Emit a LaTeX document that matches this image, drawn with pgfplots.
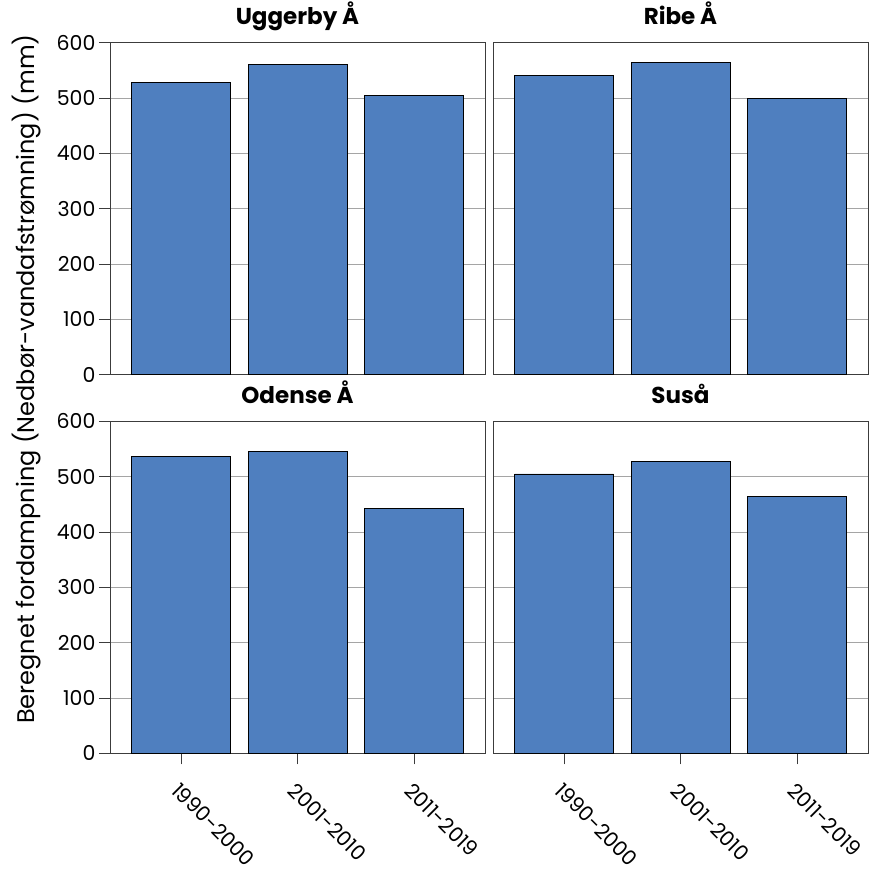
\documentclass[border=0pt]{standalone}
\usepackage{fontspec}
\setmainfont{Poppins}
\usepackage{pgfplots}
\pgfplotsset{compat=1.18}
\usepgfplotslibrary{groupplots}
\usetikzlibrary{calc}
\definecolor{barblue}{RGB}{79,127,191}
\definecolor{gridgray}{RGB}{165,165,165}
\definecolor{framegray}{RGB}{60,60,60}
\begin{document}
\begin{tikzpicture}
\begin{groupplot}[
  group style={group size=2 by 2, horizontal sep=8pt, vertical sep=46.7pt},
  width=375pt, height=332pt, scale only axis,
  ymin=0, ymax=600, ytick={0,100,...,600},
  xmin=-0.61, xmax=2.61, xtick={0,1,2},
  ymajorgrids, grid style={gridgray, line width=0.8pt},
  axis line style={framegray, line width=0.9pt},
  tick align=outside, major tick length=11pt,
  tick style={framegray, line width=0.8pt},
  ytick pos=left, xtick pos=bottom,
  ybar, /pgf/bar width=0.85,
  ticklabel style={font=\fontsize{20.5}{24}\selectfont},
  /pgf/number format/assume math mode=true,
  title style={font=\bfseries\fontsize{23}{26}\selectfont, at={(0.5,1)}, anchor=base, yshift=12pt},
]
\nextgroupplot[title={Uggerby Å}, xtick=\empty]
\addplot[fill=barblue, draw=black, line width=0.8pt] coordinates {(0,528) (1,561) (2,504)};
\nextgroupplot[title={Ribe Å}, xtick=\empty, yticklabels={}, ytick style={draw=none}]
\addplot[fill=barblue, draw=black, line width=0.8pt] coordinates {(0,540) (1,565) (2,499)};
\nextgroupplot[title={Odense Å}, xticklabels={1990-2000,2001-2010,2011-2019},
  xticklabel style={yshift=-12pt, rotate=-45, anchor=north west}]
\addplot[fill=barblue, draw=black, line width=0.8pt] coordinates {(0,537) (1,546) (2,443)};
\nextgroupplot[title={Suså}, yticklabels={}, ytick style={draw=none},
  xticklabels={1990-2000,2001-2010,2011-2019},
  xticklabel style={yshift=-12pt, rotate=-45, anchor=north west}]
\addplot[fill=barblue, draw=black, line width=0.8pt] coordinates {(0,505) (1,527) (2,464)};
\end{groupplot}
\node[rotate=90, font=\fontsize{24}{28}\selectfont] at ($(group c1r1.north west)!0.5!(group c1r2.south west)+(-83pt,19pt)$) {Beregnet fordampning (Nedbør-vandafstrømning) (mm)};
\pgfresetboundingbox
\path ($(group c1r1.north west)+(-110pt,42.7pt)$) rectangle ($(group c1r1.north west)+(767pt,-831.3pt)$);
\end{tikzpicture}
\end{document}
